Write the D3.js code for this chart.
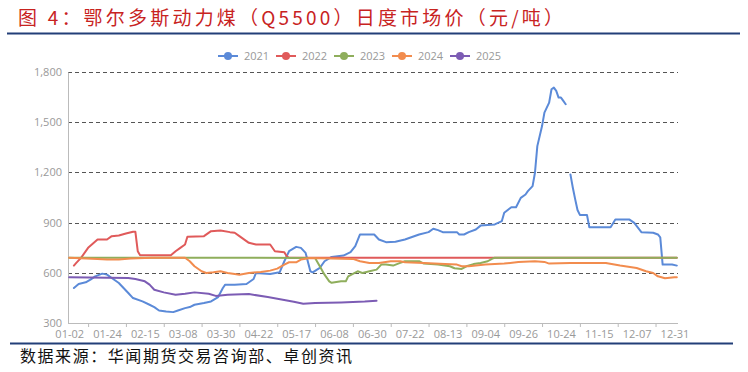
<!DOCTYPE html>
<html><head><meta charset="utf-8">
<script src="https://cdn.jsdelivr.net/npm/d3@7"></script>
<style>body{margin:0;background:#fff}svg{display:block}</style>
</head><body><svg id="c" width="748" height="372"></svg>
<script>
// ---------- data ----------
const titleText = "图 4：鄂尔多斯动力煤（Q5500）日度市场价（元/吨）";
const sourceText = "数据来源：华闻期货交易咨询部、卓创资讯";
const dateLabels = ["01-02","01-24","02-15","03-08","03-30","04-22","05-17","06-08","06-30","07-22","08-13","09-04","09-26","10-24","11-15","12-07","12-31"];
const labelStep = 16;          // trading days between labels
const categoryCount = 258;     // trading-day categories
const yTicks = [300, 600, 900, 1200, 1500, 1800];
const seriesNames = ["2021", "2022", "2023", "2024", "2025"];
const seriesColors = ["#5b8ad8", "#e05a5a", "#8fae5c", "#f28c4e", "#7c5cb4"];

// [trading-day index, price]
const s2021 = [[2,509],[4,533],[7,543],[9,559],[11,579],[14,595],[16,589],[18,569],[21,539],[23,509],[25,479],[27,449],[31,429],[34,409],[36,395],[38,375],[41,369],[44,365],[46,375],[49,389],[51,395],[53,409],[57,419],[60,429],[63,455],[65,509],[66,529],[70,529],[75,533],[78,563],[79,599],[85,593],[89,603],[91,669],[93,729],[96,755],[98,749],[100,719],[102,609],[103,603],[106,629],[108,669],[111,695],[116,703],[119,723],[121,759],[123,829],[129,829],[131,799],[134,783],[138,785],[142,799],[148,829],[152,843],[154,863],[156,855],[158,843],[164,843],[165,829],[167,829],[169,843],[172,859],[174,882],[180,889],[183,909],[184,959],[187,992],[189,992],[191,1048],[193,1068],[194,1088],[196,1118],[197,1198],[198,1357],[200,1477],[201,1557],[203,1617],[204,1697],[205,1707],[206,1687],[207,1647],[208,1647],[209,1627],[210,1607],[211,null],[212,1188],[213,1110],[214,1040],[215,975],[216,946],[219,946],[220,872],[229,872],[231,918],[237,918],[239,898],[242,843],[247,839],[249,829],[250,812],[251,649],[255,649],[257,643]];
const s2022 = [[2,643],[3,659],[5,689],[8,749],[12,799],[16,799],[18,819],[21,823],[24,835],[27,845],[28,845],[29,729],[30,705],[43,705],[45,729],[47,749],[49,769],[50,815],[57,819],[60,849],[64,853],[68,843],[70,839],[72,819],[76,779],[79,769],[85,769],[87,729],[91,723],[92,699],[93,690],[257,690]];
const s2023 = [[0,690],[104,689],[106,639],[108,589],[110,549],[111,540],[115,549],[117,549],[118,579],[122,609],[124,599],[127,609],[130,619],[132,649],[134,649],[137,643],[140,659],[142,669],[148,669],[150,655],[156,649],[161,639],[163,627],[166,623],[168,639],[171,652],[174,659],[177,669],[179,685],[180,690],[257,690]];
const s2024 = [[0,690],[12,683],[16,679],[21,679],[26,686],[35,690],[49,690],[51,669],[53,639],[56,609],[58,599],[61,603],[64,609],[67,599],[70,593],[72,589],[76,599],[81,605],[85,613],[88,625],[91,649],[93,663],[96,663],[98,679],[102,689],[120,683],[123,669],[127,659],[131,659],[136,669],[140,669],[142,663],[150,659],[159,653],[164,649],[166,639],[169,639],[176,649],[184,655],[190,665],[197,669],[201,665],[203,655],[212,659],[227,659],[233,643],[240,629],[244,609],[247,599],[249,579],[252,567],[256,573],[257,573]];
const s2025 = [[0,573],[25,569],[28,563],[32,549],[34,529],[36,499],[40,483],[45,469],[49,475],[53,483],[59,475],[62,462],[67,469],[76,473],[84,455],[95,427],[99,415],[104,420],[115,423],[125,428],[130,433]];
const seriesData = [s2021, s2022, s2023, s2024, s2025];

// ---------- drawing ----------
const svg = d3.select("#c");
const plot = {left: 68, right: 678, top: 72, bottom: 323};
const x = d3.scaleLinear().domain([-0.5, categoryCount - 0.5]).range([plot.left, plot.right]);
const y = d3.scaleLinear().domain([300, 1800]).range([plot.bottom, plot.top]);

// title
svg.append("text").attr("x", 18).attr("y", 25)
  .attr("font-family", "'Noto Sans CJK SC', sans-serif").attr("font-size", 19)
  .attr("fill", "#c8231f").attr("textLength", 545).attr("lengthAdjust", "spacing")
  .text(titleText);
svg.append("line").attr("x1", 7).attr("x2", 740).attr("y1", 33.5).attr("y2", 33.5)
  .attr("stroke", "#223f78").attr("stroke-width", 2);

// grid
svg.append("g").selectAll("line").data(yTicks.filter(v => v > 300)).join("line")
  .attr("x1", plot.left).attr("x2", plot.right)
  .attr("y1", d => Math.round(y(d)) + 0.5).attr("y2", d => Math.round(y(d)) + 0.5)
  .attr("stroke", "#555").attr("stroke-dasharray", "4,3").attr("stroke-width", 1);

// y axis
const yAxis = svg.append("g").attr("transform", `translate(${plot.left},0)`)
  .call(d3.axisLeft(y).tickValues(yTicks).tickSize(0).tickPadding(6).tickFormat(d3.format(",")));
yAxis.select(".domain").attr("stroke", "#bbb");
yAxis.selectAll("text").attr("fill", "#999").attr("font-size", 11).attr("font-family", "'Open Sans', sans-serif");

// x axis
const labelIdx = dateLabels.map((d, i) => i * labelStep);
const xAxis = svg.append("g").attr("transform", `translate(0,${plot.bottom})`)
  .call(d3.axisBottom(x).tickValues(labelIdx).tickSize(0).tickPadding(7).tickFormat((d, i) => dateLabels[i]));
xAxis.select(".domain").attr("stroke", "#bbb").attr("d", `M${plot.left},0.5H${plot.right}`);
xAxis.selectAll("text").attr("fill", "#999").attr("font-size", 11).attr("font-family", "'Open Sans', sans-serif");
const tickIdx = labelIdx.slice(0, -1).map(d => d + labelStep / 2);
svg.append("g").attr("transform", `translate(0,${plot.bottom})`)
  .call(d3.axisBottom(x).tickValues(tickIdx).tickSize(4).tickFormat(""))
  .call(g => g.select(".domain").remove())
  .selectAll("line").attr("stroke", "#bbb");

// lines
const line = d3.line().defined(d => d[1] != null).x(d => x(d[0])).y(d => y(d[1]));
svg.append("g").selectAll("path").data(seriesData).join("path")
  .attr("d", line).attr("fill", "none")
  .attr("stroke", (d, i) => seriesColors[i]).attr("stroke-width", 2)
  .attr("stroke-linejoin", "round").attr("stroke-linecap", "round");

// legend
const lg = svg.append("g").selectAll("g").data(seriesNames).join("g")
  .attr("transform", (d, i) => `translate(${228 + i * 58},56)`);
lg.append("line").attr("x1", -10).attr("x2", 10).attr("stroke", (d, i) => seriesColors[i]).attr("stroke-width", 2);
lg.append("circle").attr("r", 4).attr("fill", (d, i) => seriesColors[i]);
lg.append("text").attr("x", 16).attr("y", 4).attr("fill", "#999").attr("font-size", 11)
  .attr("font-family", "'Open Sans', sans-serif").text(d => d);

// footer
svg.append("line").attr("x1", 10).attr("x2", 733).attr("y1", 343.5).attr("y2", 343.5)
  .attr("stroke", "#223f78").attr("stroke-width", 2);
svg.append("text").attr("x", 20).attr("y", 362)
  .attr("font-family", "'Noto Sans CJK SC', sans-serif").attr("font-size", 16)
  .attr("fill", "#111").attr("textLength", 332).attr("lengthAdjust", "spacing")
  .text(sourceText);
</script></body></html>
